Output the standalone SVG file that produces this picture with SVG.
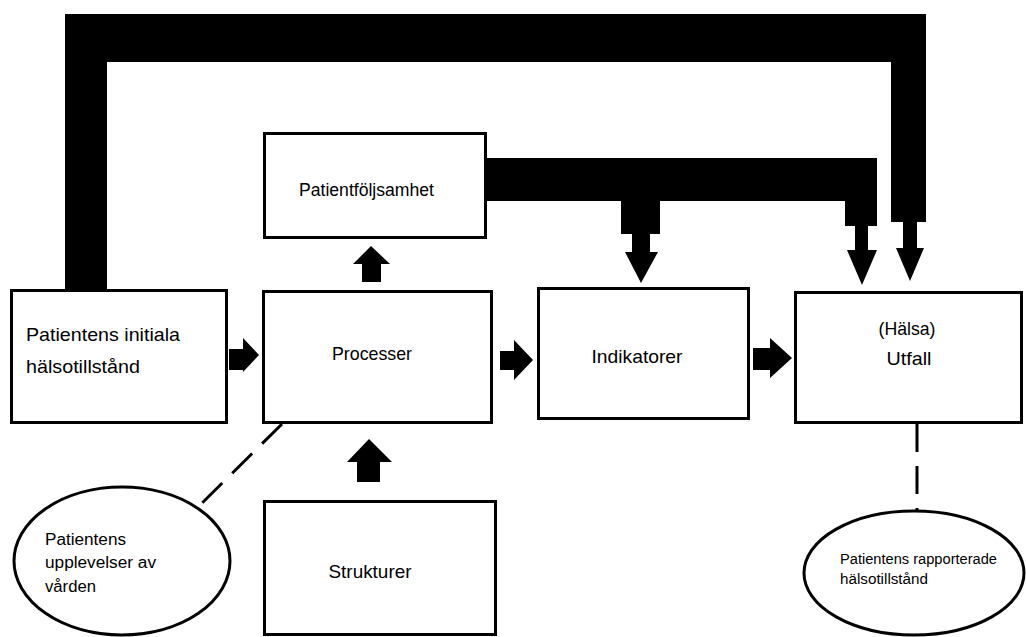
<svg xmlns="http://www.w3.org/2000/svg" width="1026" height="637" viewBox="0 0 1026 637">
<style>
.box{fill:#fff;stroke:#000;stroke-width:3}
.ell{fill:#fff;stroke:#000;stroke-width:3}
.bar{fill:#000;stroke:none}
.dash{fill:none;stroke:#000;stroke-width:3;stroke-dasharray:28 14}
text{font-family:"Liberation Sans",Arial,sans-serif;fill:#000}
.t19{font-size:19px}
.t16{font-size:16px}
.t14{font-size:14px}
</style>
<rect width="1026" height="637" fill="#fff"/>
<g id="connectors">
  <polygon class="bar" points="65,290 65,14 926,14 926,222 891,222 891,62 107,62 107,290"/>
  <polygon class="bar" points="903,222 917,222 917,248 924,248 910,281 896,248 903,248"/>
  <polygon class="bar" points="485,158 877,158 877,226 845,226 845,201 660,201 660,234 621,234 621,201 485,201"/>
  <polygon class="bar" points="632,234 650,234 650,252 658,252 641,283 625,252 632,252"/>
  <polygon class="bar" points="855,226 868,226 868,250 877,250 862,285 847,250 855,250"/>
  <polygon class="bar" points="362,282 381,282 381,264 390,264 371,246 353,264 362,264"/>
  <polygon class="bar" points="357,482 380,482 380,462 392,462 369,439 347,462 357,462"/>
  <polygon class="bar" points="229,349 243,349 243,338 259,355 243,372 243,370 229,370"/>
  <polygon class="bar" points="500,351 514,351 514,340 533,360 514,380 514,370 500,370"/>
  <polygon class="bar" points="753,348 770,348 770,338 792,358 770,378 770,370 753,370"/>
  <line class="dash" x1="282" y1="424" x2="195" y2="510"/>
  <line class="dash" x1="917" y1="424" x2="917" y2="511"/>
</g>
<g id="node-initial">
  <rect class="box" x="11.5" y="290.5" width="215" height="132"/>
  <text class="t19" x="26" y="341" textLength="154" lengthAdjust="spacingAndGlyphs">Patientens initiala</text>
  <text class="t19" x="26" y="373" textLength="114" lengthAdjust="spacingAndGlyphs">hälsotillstånd</text>
</g>
<g id="node-processer">
  <rect class="box" x="263.5" y="291.5" width="228" height="131"/>
  <text class="t19" x="372" y="360" text-anchor="middle" textLength="80" lengthAdjust="spacingAndGlyphs">Processer</text>
</g>
<g id="node-patientfoljsamhet">
  <rect class="box" x="264.5" y="133.5" width="221" height="104"/>
  <text x="299" y="196" font-size="17.5" textLength="135" lengthAdjust="spacingAndGlyphs">Patientföljsamhet</text>
</g>
<g id="node-indikatorer">
  <rect class="box" x="538.5" y="288.5" width="210" height="130"/>
  <text class="t19" x="637" y="363" text-anchor="middle" textLength="91" lengthAdjust="spacingAndGlyphs">Indikatorer</text>
</g>
<g id="node-utfall">
  <rect class="box" x="795.5" y="292.5" width="226" height="130"/>
  <text class="t19" x="907" y="335" text-anchor="middle" textLength="57" lengthAdjust="spacingAndGlyphs">(Hälsa)</text>
  <text class="t19" x="909" y="365" text-anchor="middle" textLength="45" lengthAdjust="spacingAndGlyphs">Utfall</text>
</g>
<g id="node-strukturer">
  <rect class="box" x="264.5" y="501.5" width="231" height="133"/>
  <text class="t19" x="370" y="578" text-anchor="middle" textLength="83" lengthAdjust="spacingAndGlyphs">Strukturer</text>
</g>
<g id="node-upplevelser">
  <ellipse class="ell" cx="122" cy="561" rx="108" ry="74"/>
  <text class="t16" x="45" y="545" textLength="81" lengthAdjust="spacingAndGlyphs">Patientens</text>
  <text class="t16" x="45" y="568" textLength="111" lengthAdjust="spacingAndGlyphs">upplevelser av</text>
  <text class="t16" x="45" y="592" textLength="51" lengthAdjust="spacingAndGlyphs">vården</text>
</g>
<g id="node-rapporterade">
  <ellipse class="ell" cx="914" cy="573" rx="110" ry="62"/>
  <text class="t14" x="840" y="564" textLength="157" lengthAdjust="spacingAndGlyphs">Patientens rapporterade</text>
  <text class="t14" x="840" y="584" textLength="88" lengthAdjust="spacingAndGlyphs">hälsotillstånd</text>
</g>
</svg>
